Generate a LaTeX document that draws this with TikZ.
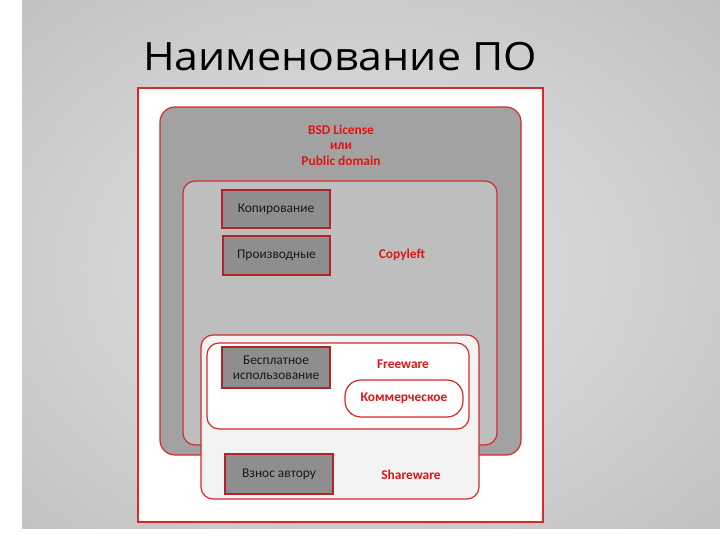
\documentclass[tikz,border=0pt]{standalone}
\usepackage{fontspec}
\setmainfont{Carlito}
\newfontfamily\titlefont[FakeStretch=1.1]{Open Sans}
\usetikzlibrary{positioning}
\definecolor{redline}{HTML}{D42A2A}
\definecolor{redtxt}{HTML}{E01515}
\definecolor{bsdgrey}{HTML}{A2A2A2}
\definecolor{clgrey}{HTML}{BEBEBE}
\definecolor{boxgrey}{HTML}{8E8E8E}
\definecolor{swwhite}{HTML}{F3F3F3}
\definecolor{bgA}{HTML}{E0E0E0}
\definecolor{bgB}{HTML}{D2D2D2}
\definecolor{bgC}{HTML}{B6B6B6}
\definecolor{bgD}{HTML}{9C9C9C}
\pgfdeclareradialshading{bgshade}{\pgfpoint{0bp}{0bp}}{color(0bp)=(bgA); color(18bp)=(bgB); color(45bp)=(bgC); color(72bp)=(bgD)}
\tikzset{
  region/.style={draw=redline, line width=1.2pt, rounded corners=12pt},
  item/.style={draw=redline!85!black, line width=2pt, fill=boxgrey, text=black!90,
    font=\fontsize{13.4}{15}\selectfont, align=center, inner sep=0pt},
  lbl/.style={text=redtxt, font=\bfseries\fontsize{13.4}{15.5}\selectfont, align=center, inner sep=0pt}
}
\begin{document}
\begin{tikzpicture}[x=1pt,y=-1pt]
\useasboundingbox (0,0) rectangle (720,540);
% background
\shade[shading=bgshade] (0,0) rectangle (720,540);
\fill[white] (0,0) rectangle (22,540);
\fill[white] (0,529) rectangle (720,540);
% title
\node[font=\titlefont\fontsize{39}{44}\selectfont, anchor=base, text=black, inner sep=0pt] (title) at (340,71) {Наименование ПО};
% outer white frame
\node[draw=redline, line width=1.2pt, fill=white, minimum width=405pt, minimum height=434pt, inner sep=0pt] (frame) at (340.5,305) {};
% BSD region
\node[region, fill=bsdgrey, rounded corners=15pt, minimum width=361pt, minimum height=348pt, inner sep=0pt] (bsd) at (340.5,281) {};
\node[lbl] (bsdlbl) at (341,145) {BSD License\\или\\Public domain};
% Copyleft region
\node[region, fill=clgrey, minimum width=314pt, minimum height=264pt, inner sep=0pt] (cl) at (340,313) {};
\node[item, minimum width=108pt, minimum height=38pt] (kop) at (276,209) {Копирование};
\node[item, minimum width=107pt, minimum height=39pt] (proiz) at (276.5,255.5) {Производные};
\node[lbl] (cllbl) at (402,255) {Copyleft};
% Shareware region
\node[region, fill=swwhite, minimum width=278pt, minimum height=164pt, inner sep=0pt] (sw) at (340,417) {};
% Freeware region
\node[region, fill=white, minimum width=262pt, minimum height=86pt, inner sep=0pt] (fw) at (338,386) {};
\node[item, minimum width=108pt, minimum height=41pt] (besp) at (276,367.5) {Бесплатное\\использование};
\node[lbl] (fwlbl) at (403,364) {Freeware};
\node[region, fill=white, rounded corners=16pt, minimum width=118pt, minimum height=37pt, inner sep=0pt, text=redtxt, font=\bfseries\fontsize{13.4}{15}\selectfont] (komm) at (404,398.5) {Коммерческое};
\node[item, minimum width=108pt, minimum height=40pt] (vznos) at (279,474) {Взнос автору};
\node[lbl] (swlbl) at (411,475) {Shareware};
\end{tikzpicture}
\end{document}
